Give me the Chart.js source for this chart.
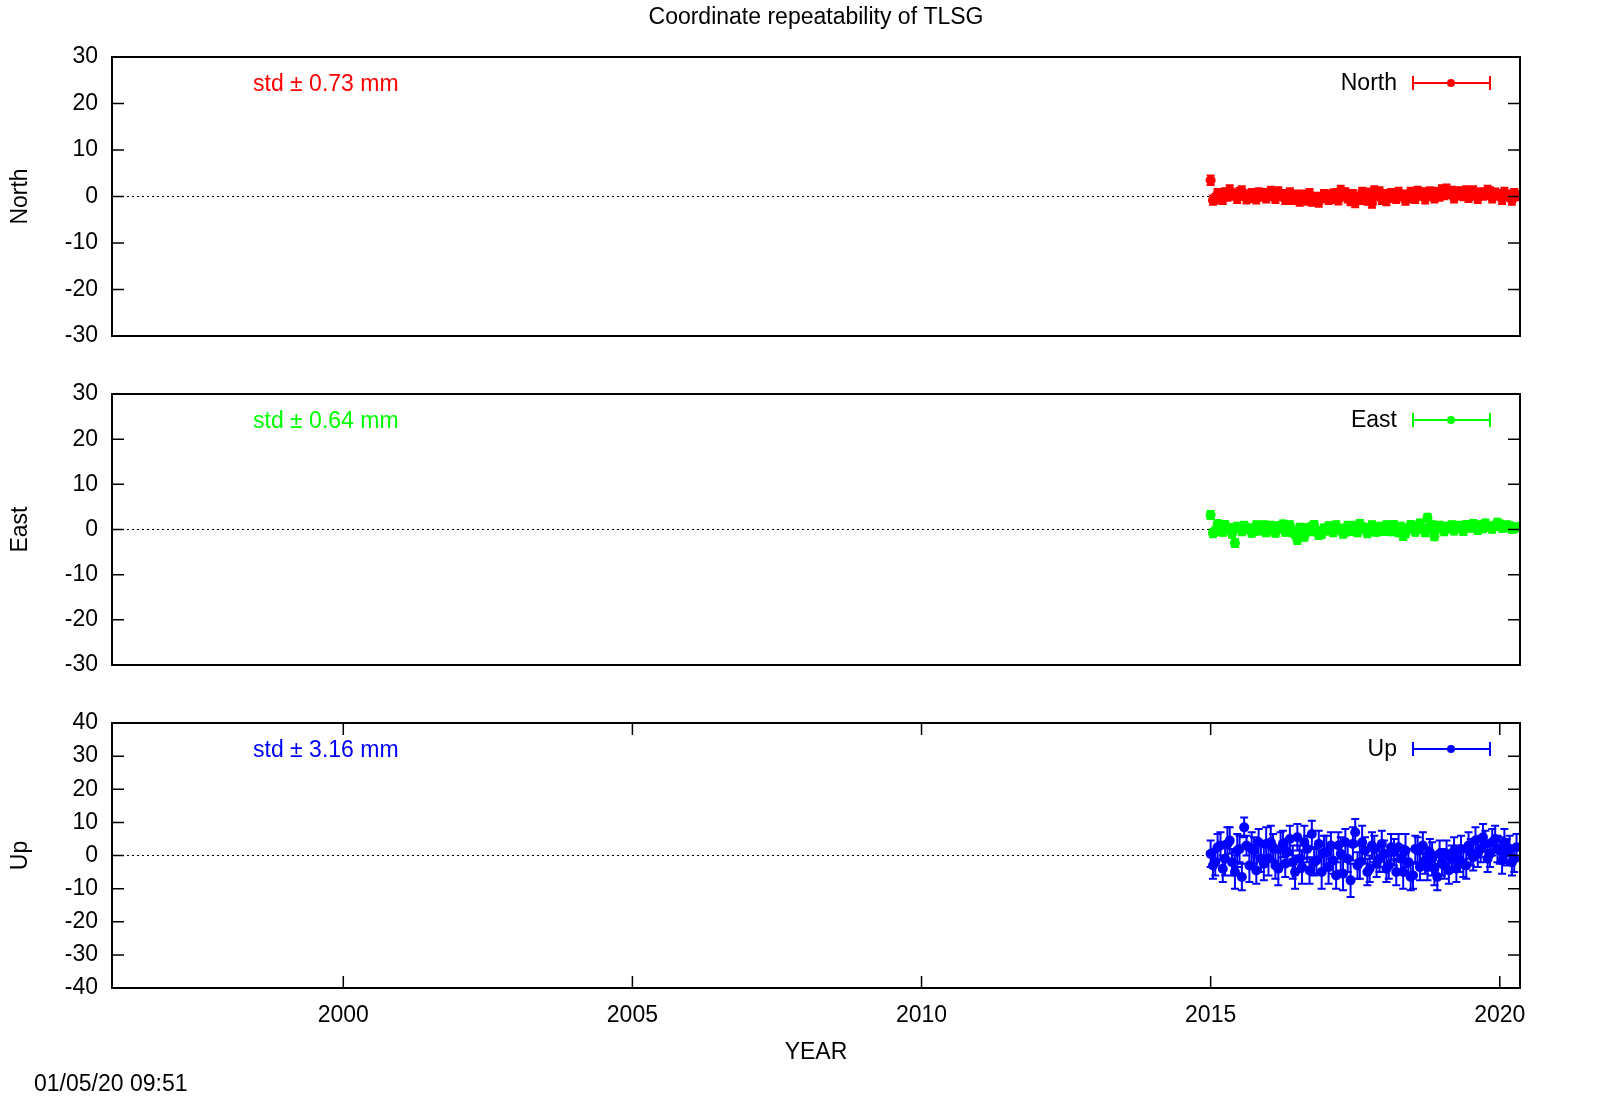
<!DOCTYPE html>
<html><head><meta charset="utf-8">
<script src="https://cdn.jsdelivr.net/npm/chart.js@4/dist/chart.umd.min.js"></script>
<style>
html,body{margin:0;padding:0;background:#fff;}
canvas{position:absolute;left:0;top:0;}
#wrap{position:relative;width:1600px;height:1120px;}
</style></head><body><div id="wrap">
<canvas id="c1" width="1600" height="1120"></canvas>
<canvas id="c2" width="1600" height="1120"></canvas>
<canvas id="c3" width="1600" height="1120"></canvas>
</div>
<script>
const titleText = "Coordinate repeatability of TLSG";
const xTickYears = [2000, 2005, 2010, 2015, 2020];
const years = [
2015.00,2015.08,2015.17,2015.25,2015.33,2015.42,2015.50,2015.58,2015.67,2015.75,2015.83,2015.92,
2016.00,2016.08,2016.17,2016.25,2016.33,2016.42,2016.50,2016.58,2016.67,2016.75,2016.83,2016.92,
2017.00,2017.08,2017.17,2017.25,2017.33,2017.42,2017.50,2017.58,2017.67,2017.75,2017.83,2017.92,
2018.00,2018.08,2018.17,2018.25,2018.33,2018.42,2018.50,2018.58,2018.67,2018.75,2018.83,2018.92,
2019.00,2019.08,2019.17,2019.25,2019.33,2019.42,2019.50,2019.58,2019.67,2019.75,2019.83,2019.92,
2020.00,2020.08,2020.17,2020.25];
const years2 = [
2015.04,2015.12,2015.21,2015.29,2015.37,2015.46,2015.54,2015.62,2015.71,2015.79,2015.87,2015.96,
2016.04,2016.12,2016.21,2016.29,2016.37,2016.46,2016.54,2016.62,2016.71,2016.79,2016.87,2016.96,
2017.04,2017.12,2017.21,2017.29,2017.37,2017.46,2017.54,2017.62,2017.71,2017.79,2017.87,2017.96,
2018.04,2018.12,2018.21,2018.29,2018.37,2018.46,2018.54,2018.62,2018.71,2018.79,2018.87,2018.96,
2019.04,2019.12,2019.21,2019.29,2019.37,2019.46,2019.54,2019.62,2019.71,2019.79,2019.87,2019.96,
2020.04,2020.12,2020.21,2020.29];
const north = [
3.5,-0.5,0.3,0.8,1.4,0.5,0.9,0.3,-0.2,0.4,0.8,0.6,
0.2,0.5,1.0,0.4,-0.3,-0.6,-0.2,0.3,-0.8,-1.0,-0.5,-0.2,
0.3,-0.4,0.6,1.3,0.8,-0.9,-1.3,-0.6,0.2,0.7,1.2,1.0,
0.4,-0.2,0.5,0.9,0.3,-0.3,0.6,1.1,0.8,0.2,0.6,0.9,
1.4,1.6,1.1,0.4,0.9,1.2,0.6,0.3,0.8,0.5,1.0,0.7,
0.4,0.9,0.2,0.6];
const north2 = [
-0.8,0.6,-0.6,0.1,0.3,-0.4,1.2,-0.5,0.6,-0.5,0.1,-0.3,
1.1,-0.4,0.2,-0.6,0.8,0.3,-1.0,-0.4,0.6,-0.2,-1.2,0.4,
-0.6,0.5,-0.7,0.2,-0.3,0.4,-0.5,0.9,-0.8,-1.4,0.3,-0.6,
-0.9,0.6,-0.4,0.2,-0.8,0.9,-0.4,0.3,-0.5,1.0,-0.3,0.1,
0.4,0.7,-0.3,1.0,0.2,-0.2,1.2,-0.4,0.3,1.3,-0.3,0.4,
-0.6,0.3,-0.8,0.2];
const east = [
3.2,-0.4,0.6,1.0,0.3,-3.0,0.5,0.8,0.2,-0.3,0.6,0.9,
0.4,-0.2,0.7,1.1,0.2,-0.6,-2.3,-0.8,0.3,0.6,-0.4,-1.0,
-0.2,0.5,0.9,0.1,-0.5,0.4,0.8,1.2,0.3,-0.4,0.2,0.6,
-0.3,0.7,1.0,-0.6,-1.4,0.2,0.8,0.5,0.1,2.6,0.9,0.4,
0.2,0.6,0.9,0.3,0.5,1.0,0.7,0.4,0.9,1.3,0.6,0.8,
1.1,0.5,0.7,0.3];
const east2 = [
-0.8,1.2,-0.5,0.3,-0.9,0.6,-0.4,0.2,-0.7,0.9,-0.2,-0.6,
0.8,-0.7,0.3,-0.5,0.9,-1.0,0.4,-1.6,-0.4,1.0,-1.2,0.2,
0.7,-0.6,0.2,-0.9,0.8,-0.3,-0.6,0.5,-0.8,0.9,-0.5,-0.2,
0.9,-0.4,0.3,0.6,-0.8,1.0,-0.5,1.3,-0.6,0.3,-1.5,0.8,
-0.4,0.3,-0.2,0.8,-0.3,0.4,1.2,-0.1,0.3,0.7,0.2,1.5,
0.4,0.9,0.2,0.5];
const up = [
0.5,-2.0,3.0,-1.0,4.5,-5.0,2.0,8.5,-3.0,1.5,4.0,-2.5,
-1.0,2.5,-4.0,3.5,1.0,-2.0,5.5,-3.5,2.0,6.5,-1.5,-5.0,
1.0,3.0,-6.0,0.5,4.0,-7.5,7.0,-2.0,1.5,-4.0,2.0,-1.0,
0.5,-3.0,1.0,2.5,-5.0,-2.0,-6.0,1.5,3.0,-3.5,-1.0,-6.5,
-2.0,0.5,-1.0,-4.0,2.0,-3.0,1.0,4.5,2.0,3.5,0.5,5.0,
1.5,4.0,2.0,-1.0];
const up2 = [
-3.0,2.5,-4.0,3.5,-2.0,1.5,-6.5,3.0,2.0,-4.5,-1.0,3.5,
4.0,-3.0,2.0,-2.5,5.0,-5.0,-1.0,4.0,-4.5,-2.0,3.5,1.0,
-3.5,-1.5,3.0,-5.5,-1.0,3.5,-3.0,4.0,-5.0,3.0,-2.5,3.5,
-4.0,2.5,-5.0,-1.0,1.5,-6.5,2.0,-3.5,-1.5,1.0,-4.0,0.5,
-3.0,-4.5,1.5,-1.0,-2.5,3.0,-0.5,0.5,5.5,-1.0,4.0,2.0,
-1.5,1.0,-2.0,2.5];
const upErr = [
4,4,4,5,4,5,4,3,5,4,4,5,
5,4,5,4,4,5,4,5,4,4,4,5,
5,4,4,5,4,5,4,5,4,4,4,4,
4,4,4,4,5,4,4,4,4,4,5,4,
4,4,4,4,4,4,4,4,4,4,4,4,
4,4,4,4];
const northErr = 1.0, eastErr = 0.9;
const stdTexts = ["std \u00b1 0.73 mm", "std \u00b1 0.64 mm", "std \u00b1 3.16 mm"];
const panelNames = ["North", "East", "Up"];
const colors = ["#ff0000", "#00ff00", "#0000ff"];

const FONT = "'Liberation Sans', Arial, sans-serif";
Chart.defaults.font.family = FONT;
Chart.defaults.color = "#000";
Chart.defaults.animation = false;

function mk(id, idx, vals, vals2, errs, ymin, ymax, top, bottom, showX) {
  const col = colors[idx];
  const errAt = i => Array.isArray(errs) ? errs[i] : errs;
  const pts = years.map((x, i) => ({x: x, y: vals[i], e: errAt(i)}))
    .concat(years2.map((x, i) => ({x: x, y: vals2[i], e: errAt(i)})));
  const plug = {
    id: 'deco' + idx,
    beforeDatasetsDraw(ch) {
      const a = ch.chartArea, ctx = ch.ctx, ys = ch.scales.y, xs = ch.scales.x;
      ctx.save();
      ctx.strokeStyle = '#000'; ctx.lineWidth = 1; ctx.setLineDash([2, 3]);
      const y0 = ys.getPixelForValue(0);
      ctx.beginPath(); ctx.moveTo(a.left, y0); ctx.lineTo(xs.getPixelForValue(2015), y0); ctx.stroke();
      ctx.setLineDash([]);
      ctx.strokeStyle = col; ctx.lineWidth = 2;
      pts.forEach(p => {
        const px = xs.getPixelForValue(p.x);
        const lo = ys.getPixelForValue(p.y - p.e), hi = ys.getPixelForValue(p.y + p.e);
        ctx.beginPath();
        ctx.moveTo(px, lo); ctx.lineTo(px, hi);
        ctx.moveTo(px - 4, lo); ctx.lineTo(px + 4, lo);
        ctx.moveTo(px - 4, hi); ctx.lineTo(px + 4, hi);
        ctx.stroke();
      });
      ctx.restore();
    },
    afterDraw(ch) {
      const a = ch.chartArea, ctx = ch.ctx, ys = ch.scales.y, xs = ch.scales.x;
      ctx.save();
      ctx.strokeStyle = '#000'; ctx.lineWidth = 2;
      ctx.strokeRect(a.left, a.top, a.right - a.left, a.bottom - a.top);
      ctx.lineWidth = 1.5;
      ys.ticks.forEach(t => {
        const py = ys.getPixelForValue(t.value);
        ctx.beginPath();
        ctx.moveTo(a.left, py); ctx.lineTo(a.left + 12, py);
        ctx.moveTo(a.right, py); ctx.lineTo(a.right - 12, py);
        ctx.stroke();
      });
      if (showX) {
        xTickYears.forEach(v => {
          const px = xs.getPixelForValue(v);
          ctx.beginPath();
          ctx.moveTo(px, a.bottom); ctx.lineTo(px, a.bottom - 12);
          ctx.moveTo(px, a.top); ctx.lineTo(px, a.top + 12);
          ctx.stroke();
        });
      }
      ctx.font = '23px ' + FONT; ctx.fillStyle = col; ctx.textBaseline = 'middle';
      ctx.textAlign = 'left';
      ctx.fillText(stdTexts[idx], 253, a.top + 28);
      ctx.fillStyle = '#000'; ctx.textAlign = 'right';
      ctx.fillText(panelNames[idx], 1397, a.top + 27);
      const ly = a.top + 26;
      ctx.strokeStyle = col; ctx.lineWidth = 2;
      ctx.beginPath();
      ctx.moveTo(1413, ly); ctx.lineTo(1490, ly);
      ctx.moveTo(1413, ly - 7); ctx.lineTo(1413, ly + 7);
      ctx.moveTo(1490, ly - 7); ctx.lineTo(1490, ly + 7);
      ctx.stroke();
      ctx.fillStyle = col; ctx.beginPath(); ctx.arc(1451, ly, 4, 0, Math.PI * 2); ctx.fill();
      ctx.fillStyle = '#000'; ctx.textAlign = 'center';
      ctx.translate(21, (a.top + a.bottom) / 2); ctx.rotate(-Math.PI / 2);
      ctx.fillText(panelNames[idx], 0, 0);
      ctx.restore();
      if (idx === 0) {
        ctx.save(); ctx.font = '23px ' + FONT; ctx.fillStyle = '#000'; ctx.textAlign = 'center'; ctx.textBaseline = 'middle';
        ctx.fillText(titleText, 816, 18);
        ctx.restore();
      }
      if (showX) {
        ctx.save(); ctx.font = '23px ' + FONT; ctx.fillStyle = '#000'; ctx.textBaseline = 'middle';
        ctx.textAlign = 'center'; ctx.fillText('YEAR', 816, 1053);
        ctx.textAlign = 'left'; ctx.fillText('01/05/20 09:51', 34, 1085);
        ctx.restore();
      }
    }
  };
  return new Chart(document.getElementById(id), {
    type: 'scatter',
    data: {datasets: [{data: pts, backgroundColor: col, borderColor: col, pointRadius: 5, pointBorderWidth: 0}]},
    options: {
      responsive: false,
      plugins: {legend: {display: false}, tooltip: {enabled: false}},
      layout: {padding: {top: top, bottom: showX ? 1120 - bottom - 45 : 1120 - bottom, left: 0, right: 80}},
      scales: {
        x: {
          type: 'linear', min: 1996, max: 2020.35, display: showX,
          grid: {display: false, drawTicks: false}, border: {display: false},
          afterBuildTicks: s => { s.ticks = xTickYears.map(v => ({value: v})); },
          afterFit: s => { s.height = showX ? 45 : 0; },
          ticks: {font: {size: 23}, padding: 14, maxRotation: 0, callback: v => String(v)}
        },
        y: {
          min: ymin, max: ymax,
          grid: {display: false, drawTicks: false}, border: {display: false},
          afterFit: s => { s.width = 112; },
          ticks: {stepSize: 10, font: {size: 23}, padding: 14}
        }
      }
    },
    plugins: [plug]
  });
}
mk('c1', 0, north, north2, northErr, -30, 30, 57, 336, false);
mk('c2', 1, east, east2, eastErr, -30, 30, 394, 665, false);
mk('c3', 2, up, up2, upErr, -40, 40, 723, 988, true);
</script></body></html>
